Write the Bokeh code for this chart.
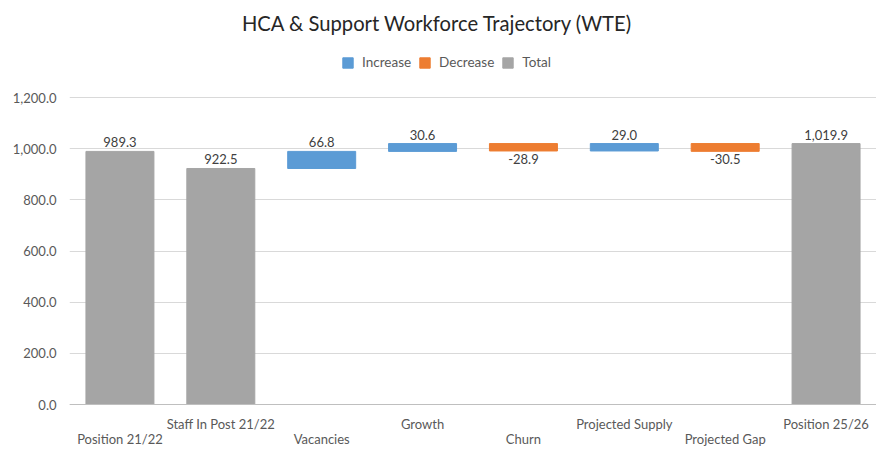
from bokeh.plotting import figure
from bokeh.models import (ColumnDataSource, FixedTicker, NumeralTickFormatter,
                          Legend, LegendItem, Range1d, Span, Label)
from bokeh.core.properties import value
from bokeh.embed import file_html
from bokeh.resources import INLINE

title_text = "HCA & Support Workforce Trajectory (WTE)"
categories = ["Position 21/22", "Staff In Post 21/22", "Vacancies", "Growth", "Churn",
              "Projected Supply", "Projected Gap", "Position 25/26"]
values = [989.3, 922.5, 66.8, 30.6, -28.9, 29.0, -30.5, 1019.9]
kinds = ["Total", "Total", "Increase", "Increase", "Decrease", "Increase", "Decrease", "Total"]
y_ticks = [0, 200, 400, 600, 800, 1000, 1200]
series_names = ["Increase", "Decrease", "Total"]
colors = {"Increase": "#5B9BD5", "Decrease": "#ED7D31", "Total": "#A5A5A5"}

FONT = "Lato"

# running totals for the waterfall
running = 0.0
rows = {k: dict(x=[], bottom=[], top=[]) for k in series_names}
above = dict(x=[], y=[], label=[])
below = dict(x=[], y=[], label=[])
for i, (v, k) in enumerate(zip(values, kinds)):
    if k == "Total":
        b, t = 0.0, v
        running = v
    else:
        start = running
        running = running + v
        b, t = min(start, running), max(start, running)
    rows[k]["x"].append(i)
    rows[k]["bottom"].append(b)
    rows[k]["top"].append(t)
    lab = "{:,.1f}".format(v)
    if k == "Decrease":
        below["x"].append(i); below["y"].append(b); below["label"].append(lab)
    else:
        above["x"].append(i); above["y"].append(t); above["label"].append(lab)

upper = dict(x=[i for i in range(len(categories)) if i % 2 == 1],
             y=[0] * (len(categories) // 2),
             label=[categories[i] for i in range(len(categories)) if i % 2 == 1])
lower = dict(x=[i for i in range(len(categories)) if i % 2 == 0],
             y=[0] * (len(categories) - len(categories) // 2),
             label=[categories[i] for i in range(len(categories)) if i % 2 == 0])

# the frame covers the whole canvas height: title/legend above 1,200, labels below 0
W, H = 876, 455
FRAME_LEFT = 69
Y0_PX, Y1200_PX = 404, 97
px_per_unit = (Y0_PX - Y1200_PX) / 1200.0
y_top = 1200 + Y1200_PX / px_per_unit
y_bottom = -(H - Y0_PX) / px_per_unit
x_lo, x_hi = -0.5, len(categories) - 0.5
x_per_px = (x_hi - x_lo) / (W - FRAME_LEFT)

p = figure(width=W, height=H, x_range=Range1d(x_lo, x_hi), y_range=Range1d(y_bottom, y_top),
           output_backend="svg", toolbar_location=None, x_axis_location=None,
           min_border_left=FRAME_LEFT, min_border_right=0, min_border_bottom=0,
           min_border_top=0)
p.outline_line_color = None
p.background_fill_color = "white"
p.border_fill_color = "white"

renderers = {}
for k in series_names:
    src = ColumnDataSource(rows[k])
    renderers[k] = p.vbar(x="x", bottom="bottom", top="top", width=0.674, source=src,
                          fill_color=colors[k], line_color=colors[k])

lab_kw = dict(text_align="center", text_font=value(FONT), text_font_size="13px")
p.text(x="x", y="y", text="label", source=ColumnDataSource(above),
       text_baseline="alphabetic", y_offset=-9, text_color="#404040", **lab_kw)
p.text(x="x", y="y", text="label", source=ColumnDataSource(below),
       text_baseline="alphabetic", y_offset=8, text_color="#404040", **lab_kw)
p.text(x="x", y="y", text="label", source=ColumnDataSource(upper),
       text_baseline="middle", y_offset=19.5, text_color="#595959", **lab_kw)
p.text(x="x", y="y", text="label", source=ColumnDataSource(lower),
       text_baseline="middle", y_offset=34.5, text_color="#595959", **lab_kw)

p.add_layout(Span(location=0, dimension="width", line_color="#BFBFBF", line_width=1))

# title, centred on the chart
p.add_layout(Label(x=x_lo + (437 - FRAME_LEFT) * x_per_px,
                   y=1200 + (Y1200_PX - 22) / px_per_unit,
                   text=title_text, text_align="center", text_baseline="middle",
                   text_font=FONT, text_font_size="20.2px", text_color="#262626"))

# y axis
p.yaxis.ticker = FixedTicker(ticks=y_ticks)
p.yaxis.formatter = NumeralTickFormatter(format="0,0.0")
p.yaxis.axis_line_color = None
p.yaxis.major_tick_line_color = None
p.yaxis.minor_tick_line_color = None
p.yaxis.major_label_text_font = FONT
p.yaxis.major_label_text_font_size = "13px"
p.yaxis.major_label_text_color = "#595959"
p.yaxis.major_label_standoff = 7
p.ygrid.ticker = FixedTicker(ticks=y_ticks)
p.ygrid.grid_line_color = "#D9D9D9"
p.xgrid.grid_line_color = None

# legend inside the (extended) frame, above the 1,200 gridline
legend = Legend(items=[LegendItem(label=k, renderers=[renderers[k]]) for k in series_names],
                orientation="horizontal", location=(272, 385))
legend.border_line_color = None
legend.background_fill_alpha = 0
legend.label_text_font = FONT
legend.label_text_font_size = "13.5px"
legend.label_text_color = "#595959"
legend.glyph_width = 13
legend.glyph_height = 13
legend.label_standoff = 8
legend.spacing = 7
legend.padding = 4
legend.margin = 0
p.add_layout(legend, "center")

open("out.html", "w").write(file_html(p, INLINE))
